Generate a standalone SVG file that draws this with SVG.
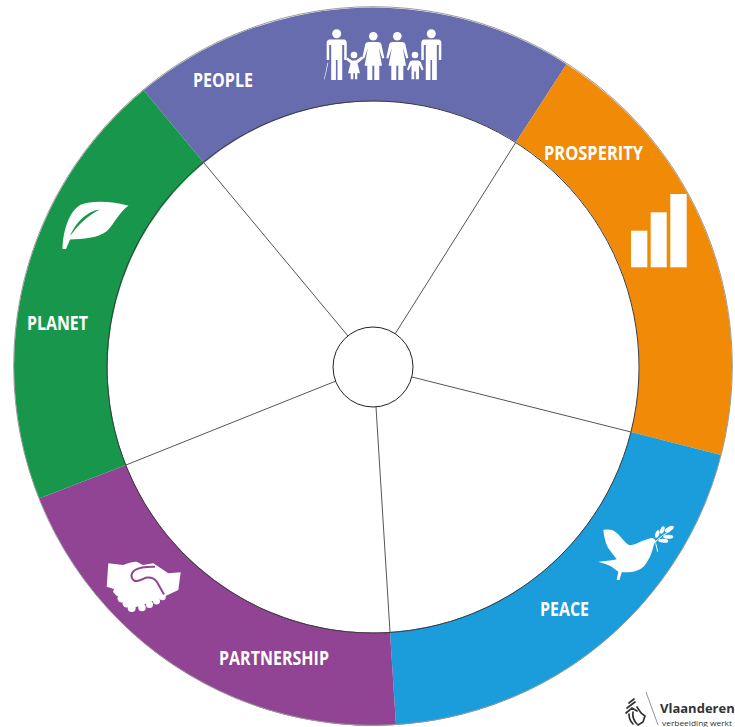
<svg xmlns="http://www.w3.org/2000/svg" width="735" height="727" viewBox="0 0 735 727">
<style>
.lab{font-family:"Open Sans","Liberation Sans",sans-serif;font-weight:700;font-size:19px;fill:#fff}
.ico{fill:#fff}
.sp{stroke:#555;stroke-width:1;fill:none}
.edge{fill:none;stroke:#3c3c3c;stroke-width:1}
.rim{fill:none;stroke:#9a9a9a;stroke-width:1}
.logo{font-family:"Open Sans","Liberation Sans",sans-serif;fill:#333}
</style>
<defs>
<g id="man"><circle cx="0" cy="33.800" r="4.500"/><path d="M-7 39.500H7Q10 39.500 10 43V60H7.500V45H5.500V80H.8V60H-.8V80H-5.500V45H-7.500V60H-10V43Q-10 39.500-7 39.500Z"/></g>
<g id="woman"><circle cx="0" cy="36.300" r="4.300"/><path d="M-5 42H5Q7 42 8 44L11 58L9 58.500L5.500 48L8.700 65.700H6V80H1V65.700H-1V80H-6V65.700H-8.700L-5.500 48L-9 58.500L-11 58L-8 44Q-7 42-5 42Z"/></g>
</defs>
<rect width="735" height="727" fill="#fff"/>
<g id="people">
<path fill="#676cae" d="M143.600 90.300A359 359 0 0 1 566.500 64.200L516 142A266 266 0 0 0 204 163Z"/>
<text class="lab" x="193" y="87" textLength="60" lengthAdjust="spacingAndGlyphs">PEOPLE</text>
<g class="ico">
<use href="#man" x="336.700"/><use href="#woman" x="373.300"/><use href="#woman" x="397.300"/><use href="#man" x="431.300"/>
<path d="M327.600 62.700L328.300 62.900L324.500 79.400H324Z"/>
<circle cx="354" cy="55" r="3.300"/><path d="M347.500 57.500L352 60.500H356L361.500 56.500L363.300 58.500L357.500 63.500L360 73.300H357.300V79.300H355V73.300H353.300V79.300H350.700V73.300H348L350.500 63.500L346 59.500Z"/>
<circle cx="415" cy="55" r="3.300"/><path d="M412 60.500H418Q420 60.500 421 62.500L423.500 69.500L422 70.500L419 65V79.300H415.800V71.500H414.200V79.300H411.500V65L408.500 70.500L407 69.500L409.500 62.500Q410.500 60.500 412 60.500Z"/>
</g>
</g>
<g id="prosperity">
<path fill="#f08a07" d="M566.500 64.200A359 359 0 0 1 721 455L631 432A266 266 0 0 0 516 142Z"/>
<text class="lab" x="544" y="160" textLength="99" lengthAdjust="spacingAndGlyphs">PROSPERITY</text>
<g class="ico"><rect x="631" y="230.700" width="16.300" height="36.600"/><rect x="650.700" y="212.300" width="16" height="55"/><rect x="670.300" y="194" width="16.400" height="73.300"/></g>
</g>
<g id="peace">
<path fill="#1b9cdb" d="M721 455A359 359 0 0 1 396 725L390 632A266 266 0 0 0 631 432Z"/>
<text class="lab" x="540" y="616" textLength="49" lengthAdjust="spacingAndGlyphs">PEACE</text>
<path class="ico" d="M603.300 530C609 529 613 530 615 531.700C620 535 622 539 625 541.700C628 545 630 545.500 631.700 545C637 544 641 541 645 540C649 539 651 537.500 653.300 538.300L656.700 541.700L654.300 543.300C653 548 652 552 650 556.700C647 562 645 566 641.700 568.300C637 571 633 572 628.300 572.300H621.700L619.500 580H616.700L618.300 571.700L611.700 566.700C607 564 602 563 598.300 561.700C604 561 611 561 616.700 559.300L608.300 548.300C605 542 604 536 603.300 530Z"/>
<g class="ico">
<ellipse cx="657.300" cy="534" rx="4" ry="2" transform="rotate(-70 657.300 534)"/>
<ellipse cx="662.300" cy="530" rx="4" ry="2" transform="rotate(-70 662.300 530)"/>
<ellipse cx="669.300" cy="529" rx="5" ry="2.200" transform="rotate(-30 669.300 529)"/>
<ellipse cx="668.300" cy="536.700" rx="5" ry="2"/>
<ellipse cx="663.300" cy="540.700" rx="5" ry="2" transform="rotate(5 663.300 540.700)"/>
</g>
<path d="M655 542Q662 535 670 531M655.700 543.300L657.700 551.700" stroke="#fff" stroke-width="1" fill="none"/>
</g>
<g id="partnership">
<path fill="#914493" d="M396 725A359 359 0 0 1 39.100 498.400L126 465A266 266 0 0 0 390 632Z"/>
<text class="lab" x="219" y="665" textLength="110" lengthAdjust="spacingAndGlyphs">PARTNERSHIP</text>
<g class="ico">
<path d="M108.300 563.300L123.300 565C128 563 133 561.500 136.700 561.700L143 565L153.300 563.300L168.300 573.300L180.700 572.300L178.300 590L164 596.700L140 606L131.700 608L113 592L114 589L106.700 586.700Z"/>
<circle cx="118.300" cy="591.700" r="4.200"/><circle cx="121.700" cy="598.300" r="4.200"/><circle cx="126.700" cy="603.300" r="4.200"/><circle cx="131.700" cy="608" r="4"/>
<circle cx="142" cy="607.500" r="3.800"/><circle cx="149.500" cy="604.500" r="3.500"/><circle cx="156.500" cy="601" r="3.500"/><circle cx="162.500" cy="597" r="3.300"/>
</g>
<path d="M155 566.700C147 566.500 140 567 135 570C130.500 573 130.500 578 134 580.500C139 583 143 578 147 577.500C152 577 155 579 157 582L164 594.500" fill="none" stroke="#914493" stroke-width="2"/>
</g>
<g id="planet">
<path fill="#18974c" d="M39.100 498.400A359 359 0 0 1 143.600 90.300L204 163A266 266 0 0 0 126 465Z"/>
<text class="lab" x="27" y="330" textLength="61" lengthAdjust="spacingAndGlyphs">PLANET</text>
<path class="ico" d="M62.500 249C63 232 68 213 80 205C92 200 112 201 128.500 205.700C120 211 114 224 107 231C99 238 82 239 70 239.500L66 249Z"/>
<path d="M70 236C75 224 86 211 100 209.500C88 215 78 225 70 236Z" fill="#18974c"/>
</g>
<g id="connectors">
<circle class="rim" cx="373" cy="366" r="359.300"/>
<circle class="edge" cx="373" cy="367" r="266"/>
<path class="sp" d="M395 334L516 142M412 377L631 432M376 407L390 632M336 381L126 465M348 336L204 163"/>
</g>
<g id="hub"><circle cx="373" cy="367" r="40" fill="#fff" stroke="#222" stroke-width="1"/></g>
<g id="logo">
<g fill="none" stroke="#333" stroke-width="1.700" stroke-linecap="round">
<path d="M629 703L634 699M627 708L635 702M626 713L632 708L637 711"/>
<path d="M629 714Q629 720 633 724M633 712Q632 719 637 724"/>
<path d="M637 707L641 713L645 716L643 722L638 725"/>
</g>
<path d="M646 692L658 725" stroke="#777" stroke-width=".8" fill="none"/>
<text class="logo" x="660" y="713" font-weight="700" font-size="13">Vlaanderen</text>
<text class="logo" x="662" y="725.500" font-size="8" textLength="70" lengthAdjust="spacingAndGlyphs">verbeelding werkt</text>
</g>
</svg>
